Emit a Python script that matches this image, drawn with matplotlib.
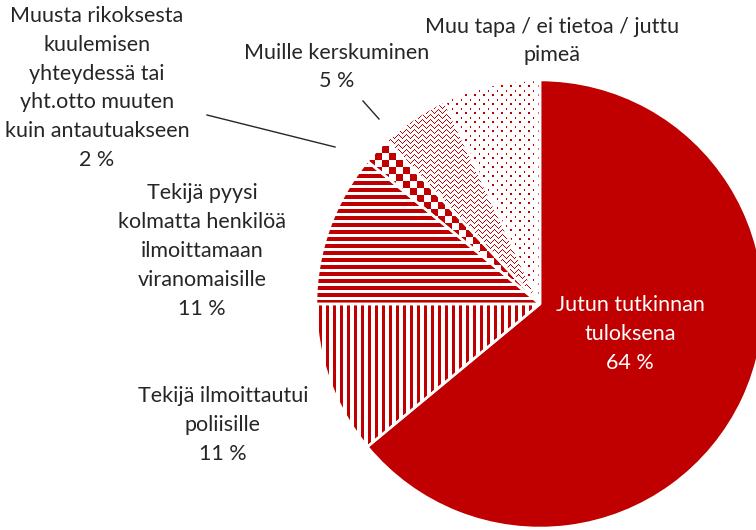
import numpy as np
import matplotlib
matplotlib.use("Agg")
import matplotlib.pyplot as plt

# Data
labels = ["Jutun tutkinnan\ntuloksena",
          "Tekijä ilmoittautui\npoliisille",
          "Tekijä pyysi\nkolmatta henkilöä\nilmoittamaan\nviranomaisille",
          "Muusta rikoksesta\nkuulemisen\nyhteydessä tai\nyht.otto muuten\nkuin antautuakseen",
          "Muille kerskuminen",
          "Muu tapa / ei tietoa / juttu\npimeä"]
shares = [64, 11, 11, 2, 5, 7]
show_pct = [True, True, True, True, True, False]

RED = "#C00000"
plt.rcParams['font.family'] = ['Lato', 'DejaVu Sans']

W, H = 756, 530
CX, CY, R = 540, 304, 224  # pie centre and radius in pixels


def px(x, y):
    # pixel position -> data coords (radius 1 == R pixels)
    return (x - CX) / R, (CY - y) / R


fig = plt.figure(figsize=(W / 100, H / 100), dpi=100)
ax = fig.add_axes([0, 0, 1, 1])

wedges, _ = ax.pie(shares, startangle=90, counterclock=False,
                   colors=[RED] + ["none"] * 5,
                   wedgeprops=dict(edgecolor="white", linewidth=1.8, zorder=3))

# textures for the patterned slices (pixel grid)
N = 2 * R + 8
yy, xx = np.mgrid[0:N, 0:N]
red_rgba = np.array([192, 0, 0, 255]) / 255.0
white_rgba = np.array([1, 1, 1, 1.0])


def texture(mask):
    img = np.empty((N, N, 4))
    img[:] = white_rgba
    img[mask] = red_rgba
    return img


vert = (xx % 7) < 3
horiz = (yy % 7) < 4
checker = ((xx // 7) + (yy // 7)) % 2 == 0
wave_y = yy - 1.6 * np.sin(2 * np.pi * xx / 8.0)
wavy = (np.round(wave_y) % 5) == 0
dots = (((xx % 9) < 2) & ((yy % 9) < 2)) | ((((xx + 4) % 9) < 1) & (((yy + 4) % 9) < 2))

patterns = [None, vert, horiz, checker, wavy, dots]
half = N / 2 / R
for w, pat in zip(wedges, patterns):
    if pat is None:
        continue
    im = ax.imshow(texture(pat), extent=[-half, half, -half, half],
                   interpolation="nearest", zorder=2)
    im.set_clip_path(w)

# labels
fs = 15.5
lab_pos = [(630, 334), (223, 425), (202, 251), (97, 88), (337, 67), (552, 41)]
for i, (lab, (x, y)) in enumerate(zip(labels, lab_pos)):
    txt = lab + ("\n%d %%" % shares[i] if show_pct[i] else "")
    ax.text(*px(x, y), txt, ha="center", va="center", fontsize=fs,
            linespacing=1.55, color="white" if i == 0 else "#262626", zorder=5)

# leader lines
for (x0, y0), (x1, y1) in [((207, 115), (335, 147)), ((363, 101), (379, 119))]:
    a, b = px(x0, y0)
    c, d = px(x1, y1)
    ax.plot([a, c], [b, d], color="#262626", lw=1, zorder=5)

ax.set_xlim(px(0, 0)[0], px(W, 0)[0])
ax.set_ylim(px(0, H)[1], px(0, 0)[1])
ax.axis("off")

fig.savefig("out.png", dpi=100)
